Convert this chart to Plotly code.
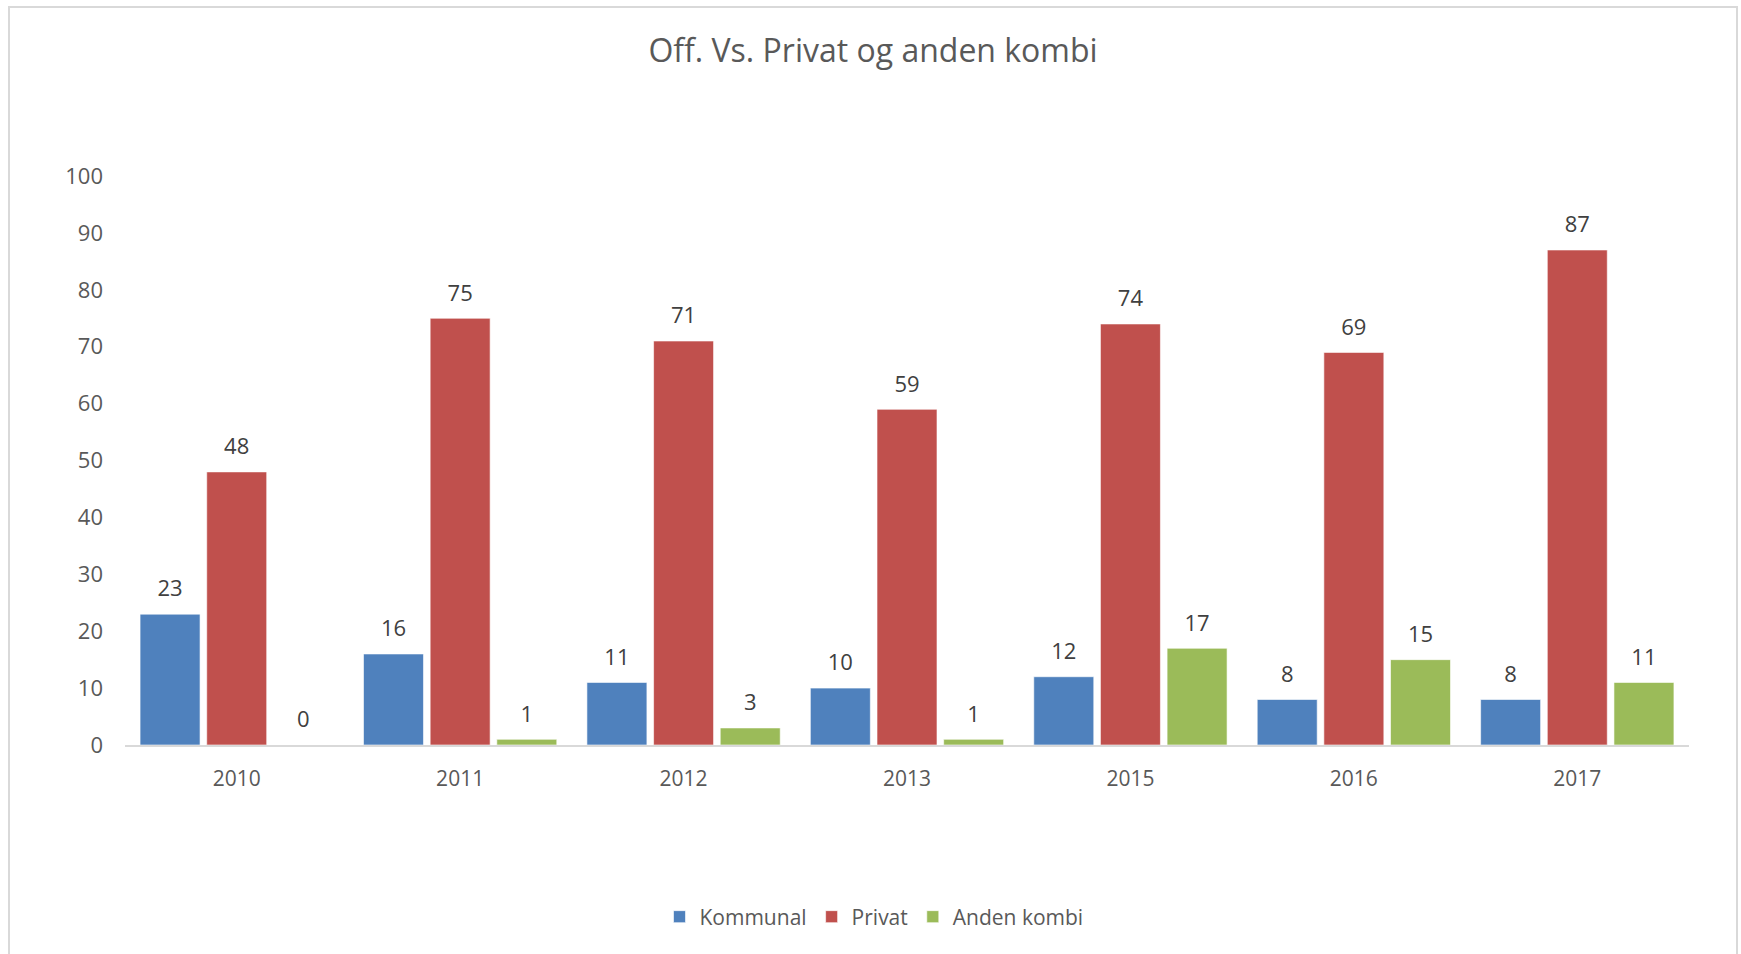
import plotly.graph_objects as go

years = ["2010", "2011", "2012", "2013", "2015", "2016", "2017"]
kommunal = [23, 16, 11, 10, 12, 8, 8]
privat = [48, 75, 71, 59, 74, 69, 87]
anden = [0, 1, 3, 1, 17, 15, 11]

series_names = ["Kommunal", "Privat", "Anden kombi"]
series_values = [kommunal, privat, anden]
series_colors = ["#4F81BD", "#C0504D", "#9BBB59"]

FONT = "Open Sans"
TXT = "#595959"
BARGAP = 0.105

W, H = 1741, 954
L, R, T, B = 125, 52, 176, 209
PW, PH = W - L - R, H - T - B

fig = go.Figure()
for i, (name, vals, col) in enumerate(zip(series_names, series_values, series_colors)):
    fig.add_trace(go.Bar(
        x=years, y=vals, name=name, offsetgroup=str(i),
        marker=dict(color=col, line=dict(color="rgba(255,255,255,0.6)", width=1)),
        hoverinfo="x+y+name",
    ))
for i, (name, vals) in enumerate(zip(series_names, series_values)):
    fig.add_trace(go.Scatter(
        x=years, y=vals, offsetgroup=str(i), mode="markers+text",
        text=[str(v) for v in vals], textposition="top center",
        textfont=dict(family=FONT, size=22, color="#404040"),
        marker=dict(size=18, opacity=0), showlegend=False, hoverinfo="skip",
        cliponaxis=False,
    ))

fig.update_layout(
    width=W, height=H,
    paper_bgcolor="white", plot_bgcolor="white",
    barmode="group", bargap=BARGAP, bargroupgap=0.1,
    scattermode="group", scattergap=BARGAP,
    margin=dict(l=L, r=R, t=T, b=B),
    font=dict(family=FONT, size=21, color=TXT),
    title=dict(text="Off. Vs. Privat og anden kombi", x=873 / W, xref="container",
               y=1 - 51 / H, yref="container", xanchor="center", yanchor="middle",
               font=dict(family=FONT, size=32, color=TXT)),
    xaxis=dict(type="category", showgrid=False, showline=True, linecolor="#D9D9D9",
               linewidth=2, ticks="", ticklabelstandoff=14,
               tickfont=dict(family=FONT, size=21, color=TXT)),
    yaxis=dict(range=[0, 100], dtick=10, showgrid=False, zeroline=False, showline=False,
               ticks="", ticklabelstandoff=21,
               tickfont=dict(family=FONT, size=22, color=TXT)),
    legend=dict(orientation="h", x=(874 - L) / PW, xanchor="center",
                y=-(917 - (H - B)) / PH, yanchor="middle",
                font=dict(family=FONT, size=21, color=TXT), itemclick=False),
    showlegend=True,
    shapes=[dict(type="rect", xref="paper", yref="paper",
                 x0=(9 - L) / PW, x1=(1737 - L) / PW,
                 y0=-0.6, y1=((H - B) - 7) / PH,
                 line=dict(color="#D9D9D9", width=2), fillcolor="rgba(0,0,0,0)", layer="below")],
)

fig.write_html("out.html", config={"displayModeBar": False},
               post_script="document.body.style.margin='0';document.body.style.overflow='hidden';")
